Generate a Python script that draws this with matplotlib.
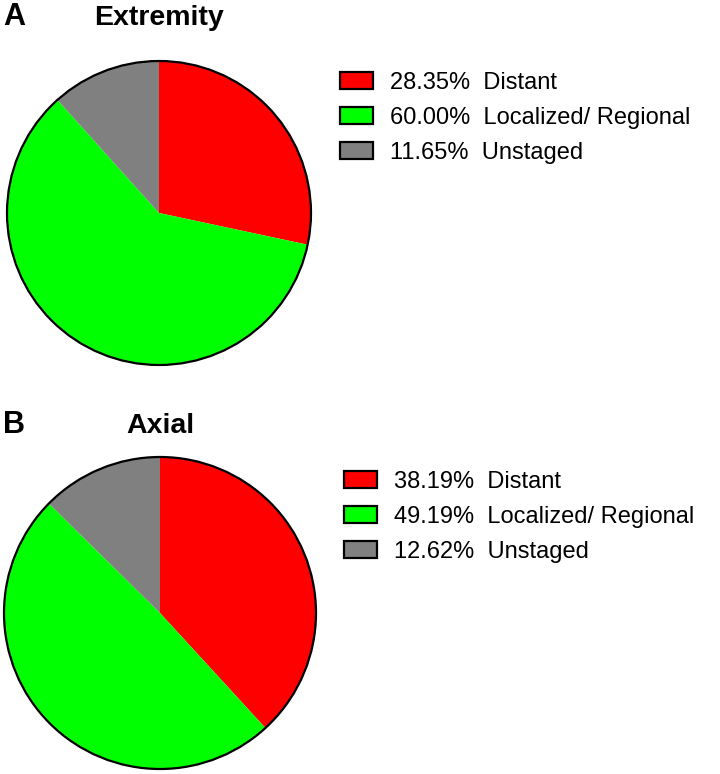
import matplotlib
matplotlib.use('Agg')
import matplotlib.pyplot as plt
from matplotlib.patches import Patch

plt.rcParams['font.family'] = ['Liberation Sans', 'DejaVu Sans']

# ── Data ──
categories = ["Distant", "Localized/ Regional", "Unstaged"]
extremity_pct = [28.35, 60.00, 11.65]
axial_pct = [38.19, 49.19, 12.62]
colors = ["#ff0000", "#00ff00", "#808080"]

W, H = 720, 774
fig = plt.figure(figsize=(W / 100, H / 100), dpi=100)


def px_axes(cx, cy, r):
    # axes box in figure fraction from pixel center/radius (top-left origin)
    return [(cx - r) / W, (H - cy - r) / H, 2 * r / W, 2 * r / H]


def draw_panel(cx, cy, r, values, letter, title, title_y, legend_x, legend_top):
    ax = fig.add_axes(px_axes(cx, cy, r))
    ax.pie(values, colors=colors, startangle=90, counterclock=False, radius=1.0,
           wedgeprops=dict(edgecolor="none"))
    circ = plt.Circle((0, 0), 1.0, fill=False, edgecolor="black", linewidth=1.6,
                      clip_on=False)
    ax.add_patch(circ)
    ax.set_xlim(-1.0, 1.0)
    ax.set_ylim(-1.0, 1.0)
    ax.set_aspect("equal")
    ax.axis("off")

    fig.text(3 / W, 1 - (title_y - 1) / H, letter, fontsize=22, fontweight="bold",
             ha="left", va="center")
    fig.text(cx / W, 1 - title_y / H, title, fontsize=20.5, fontweight="bold",
             ha="center", va="center")

    handles = [Patch(facecolor=c, edgecolor="black", linewidth=1.6) for c in colors]
    labels = [f"{v:.2f}%  {cat}" for v, cat in zip(values, categories)]
    fig.legend(handles, labels, loc="upper left",
               bbox_to_anchor=(legend_x / W, 1 - legend_top / H),
               frameon=False, fontsize=17, handlelength=1.4, handleheight=0.7,
               handletextpad=0.7, labelspacing=0.55, borderaxespad=0, borderpad=0)


draw_panel(159, 213, 152, extremity_pct, "A", "Extremity", 18, 340, 72)
draw_panel(160, 613, 156, axial_pct, "B", "Axial", 426, 344, 471)

fig.savefig("out.png", dpi=100)
